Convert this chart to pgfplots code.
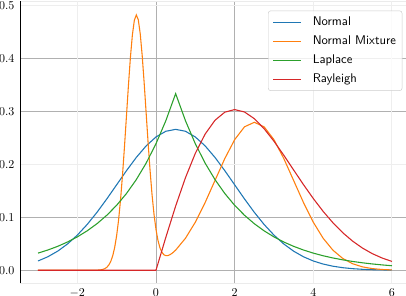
\documentclass[border=0pt]{standalone}
\usepackage{fontspec}
\usepackage{pgfplots}
\pgfplotsset{compat=1.18}
\definecolor{tabblue}{HTML}{1F77B4}
\definecolor{taborange}{HTML}{FF7F0E}
\definecolor{tabgreen}{HTML}{2CA02C}
\definecolor{tabred}{HTML}{D62728}
\definecolor{gridgray}{HTML}{B0B0B0}
\definecolor{gridlight}{HTML}{EEEEEE}
\begin{document}
\begin{tikzpicture}
\begin{axis}[
  name=ax,
  scale only axis,
  width=324.5pt, height=234.9pt,
  xmin=-3.45, xmax=6.45,
  ymin=-0.0242, ymax=0.5078,
  axis line style={draw=black!8},
  major tick length=0pt,
  grid=major,
  major grid style={draw=gridgray, line width=0.8pt},
  xtick={0,2}, xticklabels={$0$,$2$},
  extra x ticks={-2,4,6}, extra x tick labels={$-2$,$4$,$6$},
  extra x tick style={grid=major, major grid style={draw=gridlight, line width=0.8pt}},
  ytick={0,0.1,0.3,0.4}, yticklabels={$0.0$,$0.1$,$0.3$,$0.4$},
  extra y ticks={0.2,0.5}, extra y tick labels={$0.2$,$0.5$},
  extra y tick style={grid=major, major grid style={draw=gridlight, line width=0.8pt}},
  x tick label style={yshift=-1pt},
  y tick label style={xshift=-1.4pt},
  legend style={at={(0.981,0.9667)}, anchor=north east,
    draw=black!20, rounded corners=2pt, fill=white, fill opacity=0.8, text opacity=1,
    font=\sffamily\fontsize{10.5}{12}\selectfont,
    inner xsep=3.7pt, inner ysep=4.4pt, row sep=5.9pt, column sep=7.9pt,
    nodes={inner xsep=1.3pt, inner ysep=0pt, text height=7.5pt, text depth=2.5pt}},
  legend cell align=left,
  legend image code/.code={\draw[#1, line width=0.9pt, draw opacity=1] (0pt,0pt) -- (23.3pt,0pt);},
  every axis plot/.append style={line width=0.9pt},
  extra description/.code={\draw[black, line width=1pt] (rel axis cs:0,0) -- (rel axis cs:0,1);},
]
\addplot[tabblue] coordinates {(-3,0.01748)(-2.75,0.02543)(-2.5,0.03599)(-2.25,0.04954)(-2,0.06632)(-1.75,0.08634)(-1.5,0.10934)(-1.25,0.13467)(-1,0.16131)(-0.75,0.18794)(-0.5,0.21297)(-0.25,0.23471)(0,0.25159)(0.25,0.26229)(0.5,0.26596)(0.75,0.26229)(1,0.25159)(1.25,0.23471)(1.5,0.21297)(1.75,0.18794)(2,0.16131)(2.25,0.13467)(2.5,0.10934)(2.75,0.08634)(3,0.06632)(3.25,0.04954)(3.5,0.03599)(3.75,0.02543)(4,0.01748)(4.25,0.01169)(4.5,0.00760)(4.75,0.00481)(5,0.00296)(5.25,0.00177)(5.5,0.00103)(5.75,0.00058)(6,0.00032)};
\addlegendentry{Normal}
\addplot[taborange] coordinates {(-3,0)(-2.5,0)(-2,0.00001)(-1.75,0.00004)(-1.5,0.000255)(-1.45,0.000464)(-1.4,0.000873)(-1.35,0.001648)(-1.3,0.003065)(-1.25,0.005565)(-1.2,0.009796)(-1.15,0.016657)(-1.1,0.027302)(-1.05,0.043082)(-1,0.065401)(-0.95,0.095468)(-0.9,0.133968)(-0.85,0.180695)(-0.8,0.234229)(-0.75,0.291787)(-0.7,0.349300)(-0.65,0.401826)(-0.6,0.444210)(-0.55,0.471918)(-0.5,0.481832)(-0.45,0.472851)(-0.4,0.446091)(-0.35,0.404683)(-0.3,0.353172)(-0.25,0.296732)(-0.2,0.240319)(-0.15,0.188011)(-0.1,0.142613)(-0.05,0.105555)(0,0.077061)(0.05,0.056456)(0.1,0.042550)(0.15,0.033954)(0.2,0.029324)(0.25,0.027536)(0.3,0.027693)(0.35,0.029164)(0.4,0.031522)(0.45,0.034505)(0.5,0.037955)(0.75,0.06040)(1,0.09066)(1.25,0.12785)(1.5,0.16938)(1.75,0.21080)(2,0.24645)(2.25,0.27067)(2.5,0.27926)(2.75,0.27067)(3,0.24645)(3.25,0.21080)(3.5,0.16938)(3.75,0.12785)(4,0.09066)(4.25,0.06040)(4.5,0.03779)(4.75,0.02222)(5,0.01227)(5.25,0.00637)(5.5,0.00310)(5.75,0.00142)(6,0.00061)};
\addlegendentry{Normal Mixture}
\addplot[tabgreen] coordinates {(-3,0.03232)(-2.75,0.03819)(-2.5,0.04511)(-2.25,0.05329)(-2,0.06296)(-1.75,0.07437)(-1.5,0.08786)(-1.25,0.10380)(-1,0.12262)(-0.75,0.14486)(-0.5,0.17113)(-0.25,0.20217)(0,0.23884)(0.25,0.28216)(0.5,0.33333)(0.75,0.28216)(1,0.23884)(1.25,0.20217)(1.5,0.17113)(1.75,0.14486)(2,0.12262)(2.25,0.10380)(2.5,0.08786)(2.75,0.07437)(3,0.06296)(3.25,0.05329)(3.5,0.04511)(3.75,0.03819)(4,0.03232)(4.25,0.02736)(4.5,0.02316)(4.75,0.01961)(5,0.01660)(5.25,0.01405)(5.5,0.01189)(5.75,0.01007)(6,0.00852)};
\addlegendentry{Laplace}
\addplot[tabred] coordinates {(-3,0)(-2,0)(-1,0)(0,0)(0.25,0.06201)(0.5,0.12115)(0.75,0.17477)(1,0.22062)(1.25,0.25706)(1.5,0.28307)(1.75,0.29835)(2,0.30327)(2.25,0.29874)(2.5,0.28614)(2.75,0.26713)(3,0.24349)(3.25,0.21699)(3.5,0.18924)(3.75,0.16165)(4,0.13534)(4.25,0.11113)(4.5,0.08951)(4.75,0.07074)(5,0.05493)(5.25,0.04187)(5.5,0.03134)(5.75,0.02306)(6,0.01666)};
\addlegendentry{Rayleigh}
\coordinate (bbsw) at (axis cs:-3.966,-0.0485);
\coordinate (bbne) at (axis cs:6.357,0.5101);
\end{axis}
\pgfresetboundingbox
\path[use as bounding box] (bbsw) rectangle (bbne);
\end{tikzpicture}
\end{document}
